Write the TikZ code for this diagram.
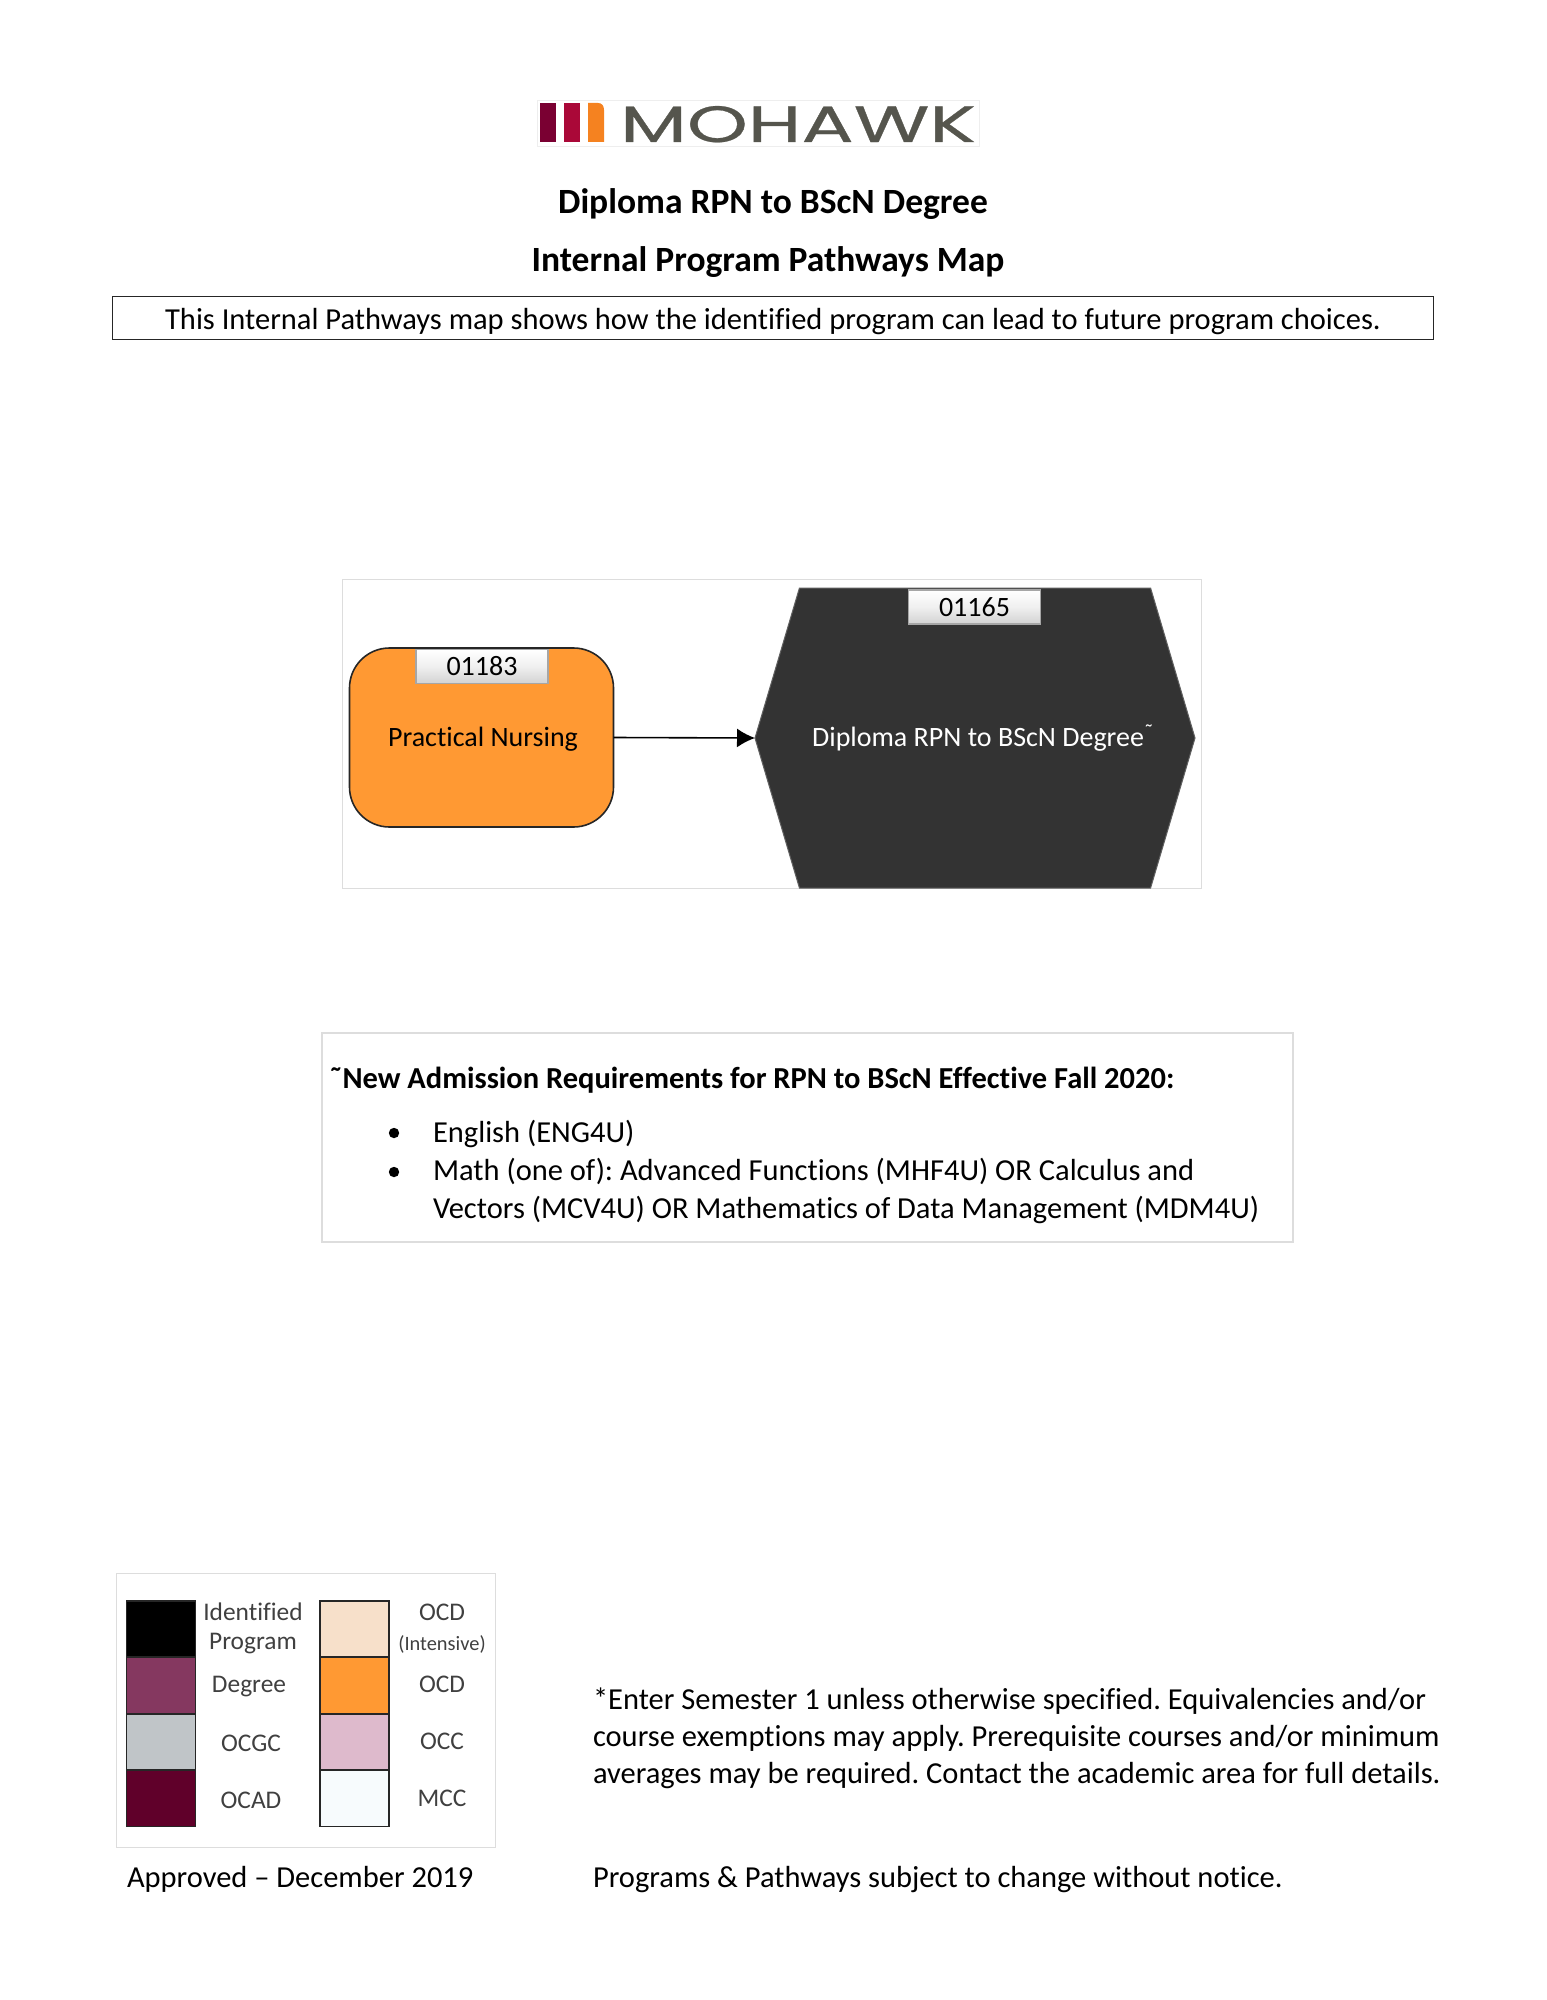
\documentclass[tikz,border=0pt]{standalone}
\usepackage{fontspec}
\setmainfont[Ligatures=NoCommon]{Carlito}
\newfontfamily\logofont[FakeBold=0.5]{Poppins}
\usetikzlibrary{shapes.symbols,arrows.meta}
\definecolor{orangeb}{HTML}{FF9933}
\definecolor{hexfill}{HTML}{333333}
\definecolor{framegray}{HTML}{DDDDDD}
\definecolor{legtext}{HTML}{404040}
\newcommand{\tld}{\symbol{"02DC}}
\frenchspacing
\tikzset{
  x=0.5pt,y=-0.5pt,
  txt/.style={inner sep=0pt,outer sep=0pt,anchor=base west,font=\fontsize{15.25}{18}\selectfont,text=black},
  ctitle/.style={inner sep=0pt,outer sep=0pt,anchor=base,font=\fontsize{17.75}{20}\selectfont\bfseries,text=black},
  tag/.style={draw=gray!70,line width=0.7pt,top color=white,bottom color=gray!35,middle color=gray!12,minimum width=66pt,minimum height=17pt,inner sep=0pt,outer sep=0pt,font=\fontsize{14}{15}\selectfont,text=black},
  difflabel/.style={inner sep=0pt,outer sep=0pt,anchor=base,font=\fontsize{14}{15}\selectfont},
  legbar/.style={draw=black!85,line width=0.8pt,minimum width=34.5pt,minimum height=28pt,inner sep=0pt,outer sep=0pt},
  leglab/.style={inner sep=0pt,outer sep=0pt,text=legtext,font=\fontsize{12.7}{14}\selectfont},
  bar/.style={inner sep=0pt,outer sep=0pt,minimum width=8pt,minimum height=19.5pt},
  bulletmark/.style={circle,fill=black,inner sep=0pt,minimum size=5.2pt,outer sep=0pt}
}
\begin{document}
\begin{tikzpicture}
\useasboundingbox (0,0) rectangle (1546,2000);
\fill[white] (0,0) rectangle (1546,2000);
% logo
\draw[framegray!50,line width=0.3pt] (537,100) rectangle (979,146);
\node[bar,fill={rgb,255:red,122;green,0;blue,50}] (logoa) at (548,122.5) {};
\node[bar,fill={rgb,255:red,170;green,8;blue,56}] (logob) at (572,122.5) {};
\fill[fill={rgb,255:red,245;green,130;blue,32}] (588,103) -- (598,103) .. controls (602,103) and (604,106) .. (604,110) -- (604,142) -- (588,142) -- cycle;
\node[inner sep=0pt,outer sep=0pt,anchor=base,text={rgb,255:red,85;green,85;blue,77}] (logotext) at (798,142) {\scalebox{1.52}[1]{\logofont\fontsize{25.5}{26}\selectfont MOHAWK}};
% titles
\node[ctitle] (title1) at (773,214) {Diploma RPN to BScN Degree};
\node[ctitle] (title2) at (768,272) {Internal Program Pathways Map};
\draw[black!85,line width=0.5pt] (112,297) rectangle (1433,340);
\node[inner sep=0pt,outer sep=0pt,anchor=base,font=\fontsize{15.25}{18}\selectfont] (intro) at (773,330) {This Internal Pathways map shows how the identified program can lead to future program choices.};
% diagram
\draw[framegray,line width=0.5pt] (342,579) rectangle (1201,888);
\node[draw=black!85,fill=orangeb,line width=0.8pt,rounded corners=20pt,minimum width=132pt,minimum height=89.5pt,inner sep=0pt,outer sep=0pt] (pn) at (481.5,737.5) {};
\node[signal,signal to=west and east,signal pointer angle=147,fill=hexfill,draw=gray!75!black,line width=0.5pt,minimum width=220pt,minimum height=150pt,inner sep=0pt,outer sep=0pt] (bscn) at (975,738) {};
\node[tag] (tagA) at (482,666.5) {01183};
\node[tag] (tagB) at (974.5,607) {01165};
\node[difflabel,text=black] (pnlabel) at (483,746) {Practical Nursing};
\node[difflabel,text=white] (bscnlabel) at (983,746) {Diploma RPN to BScN Degree\raisebox{0.45ex}{\fontsize{11}{11}\selectfont\tld}};
\draw[black,line width=0.8pt,-{Latex[length=9pt,width=9.5pt]}] (pn.east) -- (bscn.west);
% requirements
\draw[framegray,line width=0.6pt] (322,1033) rectangle (1293,1242);
\node[txt,font=\fontsize{15.25}{18}\selectfont\bfseries] (reqhead) at (329,1088) {\tld New Admission Requirements for RPN to BScN Effective Fall 2020:};
\node[bulletmark] (b1) at (394,1133) {};
\node[bulletmark] (b2) at (394,1172) {};
\node[txt] (r1) at (433,1142) {English (ENG4U)};
\node[txt] (r2) at (433,1180) {Math (one of): Advanced Functions (MHF4U) OR Calculus and};
\node[txt] (r3) at (433,1218) {Vectors (MCV4U) OR Mathematics of Data Management (MDM4U)};
% legend
\draw[framegray,line width=0.5pt] (116,1573) rectangle (495,1847);
\node[legbar,fill=black] (l1) at (161,1629) {};
\node[legbar,fill={rgb,255:red,133;green,56;blue,96}] (l2) at (161,1685.5) {};
\node[legbar,fill={rgb,255:red,192;green,197;blue,200}] (l3) at (161,1742) {};
\node[legbar,fill={rgb,255:red,96;green,0;blue,42}] (l4) at (161,1798.5) {};
\node[legbar,fill={rgb,255:red,247;green,224;blue,202}] (r1b) at (354.5,1629) {};
\node[legbar,fill=orangeb] (r2b) at (354.5,1685.5) {};
\node[legbar,fill={rgb,255:red,222;green,186;blue,204}] (r3b) at (354.5,1742) {};
\node[legbar,fill={rgb,255:red,247;green,251;blue,253}] (r4b) at (354.5,1798.5) {};
\node[leglab] (t1) at (253,1612) {Identified};
\node[leglab] (t2) at (253,1644) {Program};
\node[leglab] (t3) at (249,1687) {Degree};
\node[leglab] (t4) at (251,1743) {OCGC};
\node[leglab] (t5) at (251,1800) {OCAD};
\node[leglab] (t6) at (442,1612) {OCD};
\node[leglab,font=\fontsize{10.2}{11}\selectfont] (t7) at (442,1644) {(Intensive)};
\node[leglab] (t8) at (442,1684) {OCD};
\node[leglab] (t9) at (442,1741) {OCC};
\node[leglab] (t10) at (442,1798) {MCC};
% notes
\node[txt] (appr) at (127,1887) {Approved – December 2019};
\node[txt] (n1) at (593,1709) {*Enter Semester 1 unless otherwise specified. Equivalencies and/or};
\node[txt] (n2) at (593,1746) {course exemptions may apply. Prerequisite courses and/or minimum};
\node[txt] (n3) at (593,1783) {averages may be required. Contact the academic area for full details.};
\node[txt] (n4) at (593,1887) {Programs \& Pathways subject to change without notice.};
\end{tikzpicture}
\end{document}
